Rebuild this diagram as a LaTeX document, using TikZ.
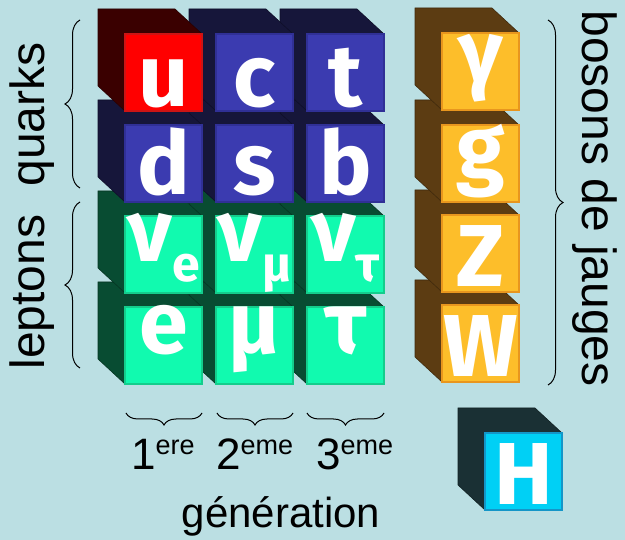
\documentclass[tikz,border=0pt]{standalone}
\usepackage{fontspec}
\setmainfont{Liberation Sans}
\newfontfamily\cubefont{Fira Sans}
\usetikzlibrary{decorations.pathreplacing}
\definecolor{bgc}{RGB}{187,223,227}
\definecolor{redF}{RGB}{255,0,0}
\definecolor{redS}{RGB}{58,0,0}
\definecolor{redB}{RGB}{205,20,20}
\definecolor{bluF}{RGB}{59,59,176}
\definecolor{bluS}{RGB}{22,22,58}
\definecolor{bluB}{RGB}{48,48,150}
\definecolor{grnF}{RGB}{17,250,175}
\definecolor{grnS}{RGB}{8,76,50}
\definecolor{grnB}{RGB}{20,205,140}
\definecolor{orgF}{RGB}{253,190,42}
\definecolor{orgS}{RGB}{92,60,18}
\definecolor{orgB}{RGB}{232,150,30}
\definecolor{cyaF}{RGB}{0,208,245}
\definecolor{cyaS}{RGB}{26,48,52}
\definecolor{cyaB}{RGB}{20,150,200}
\tikzset{
  face/.style={minimum width=77pt, minimum height=77pt, inner sep=0pt, line width=1.5pt},
  glyph/.style={font=\cubefont\bfseries\fontsize{88}{88}\selectfont, text=white, anchor=base, inner sep=0pt},
  lbl/.style={font=\fontsize{48}{48}\selectfont, inner sep=0pt, text=black},
  brc/.style={decorate, line width=1pt, draw=black},
}
\newcommand\qsub[1]{\raisebox{-20pt}{\fontsize{50}{50}\selectfont #1}}
% #1 name, #2 x, #3 y, #4 colour prefix, #5 text, #6 baseline offset
\newcommand\qcube[6]{%
  \fill[#4S, draw=#4S!70!black, line width=0.6pt] (#2-27,#3-25) -- (#2+50,#3-25) -- (#2+77,#3) -- (#2,#3) -- (#2,#3+77) -- (#2-27,#3+52) -- cycle;
  \node[face, fill=#4F, draw=#4B] (f#1) at (#2+38.5,#3+38.5) {};
  \node[glyph] (#1) at (#2+38.5,#3+#6) {#5};
}
\begin{document}
\begin{tikzpicture}[x=1pt,y=-1pt]
\useasboundingbox[fill=bgc] (0,0) rectangle (625,540);
% row 4
\qcube{tau}{307}{307}{grn}{τ}{47}
\qcube{mu}{216}{307}{grn}{μ}{47}
\qcube{e}{125}{307}{grn}{e}{47}
% row 3
\qcube{nutau}{307}{216}{grn}{ν\qsub{τ}}{46}
\qcube{numu}{216}{216}{grn}{ν\qsub{μ}}{46}
\qcube{nue}{125}{216}{grn}{ν\qsub{e}}{46}
% row 2
\qcube{b}{307}{125}{blu}{b}{70}
\qcube{s}{216}{125}{blu}{s}{70}
\qcube{d}{125}{125}{blu}{d}{70}
% row 1
\qcube{t}{307}{34}{blu}{t}{73}
\qcube{c}{216}{34}{blu}{c}{73}
\qcube{u}{125}{34}{red}{u}{73}
% bosons
\qcube{W}{442}{305}{org}{W}{72}
\qcube{Z}{442}{215}{org}{Z}{72}
\qcube{g}{442}{125}{org}{g}{54}
\qcube{gam}{442}{33}{org}{γ}{50}
% Higgs
\qcube{H}{485}{433}{cya}{H}{72}
% labels
\node[lbl, rotate=90, anchor=base] (quarks) at (45,114.5) {quarks};
\node[lbl, rotate=90, anchor=base] (leptons) at (45,292) {leptons};
\node[lbl, rotate=-90, anchor=base] (bosons) at (582,198.5) {bosons de jauges};
\node[inner sep=0pt, anchor=base west] (gen1) at (131,470) {\fontsize{44}{44}\selectfont 1\raisebox{15pt}{\fontsize{27}{27}\selectfont ere}};
\node[inner sep=0pt, anchor=base west] (gen2) at (216,470) {\fontsize{44}{44}\selectfont 2\raisebox{15pt}{\fontsize{27}{27}\selectfont eme}};
\node[inner sep=0pt, anchor=base west] (gen3) at (316,470) {\fontsize{44}{44}\selectfont 3\raisebox{15pt}{\fontsize{27}{27}\selectfont eme}};
\node[inner sep=0pt, anchor=base] (generation) at (281,528) {\fontsize{42}{42}\selectfont génération};
% braces
\coordinate (qb1) at (80,188); \coordinate (qb2) at (80,20);
\coordinate (lb1) at (80,368); \coordinate (lb2) at (80,202);
\coordinate (bb1) at (548,20); \coordinate (bb2) at (548,385);
\coordinate (g1a) at (202,413); \coordinate (g1b) at (126,413);
\coordinate (g2a) at (293,413); \coordinate (g2b) at (217,413);
\coordinate (g3a) at (384,413); \coordinate (g3b) at (307,413);
\draw[brc, decoration={brace, amplitude=15pt}] (qb1) -- (qb2);
\draw[brc, decoration={brace, amplitude=15pt}] (lb1) -- (lb2);
\draw[brc, decoration={brace, amplitude=15pt}] (bb1) -- (bb2);
\draw[brc, decoration={brace, amplitude=12pt}] (g1a) -- (g1b);
\draw[brc, decoration={brace, amplitude=12pt}] (g2a) -- (g2b);
\draw[brc, decoration={brace, amplitude=12pt}] (g3a) -- (g3b);
\end{tikzpicture}
\end{document}
